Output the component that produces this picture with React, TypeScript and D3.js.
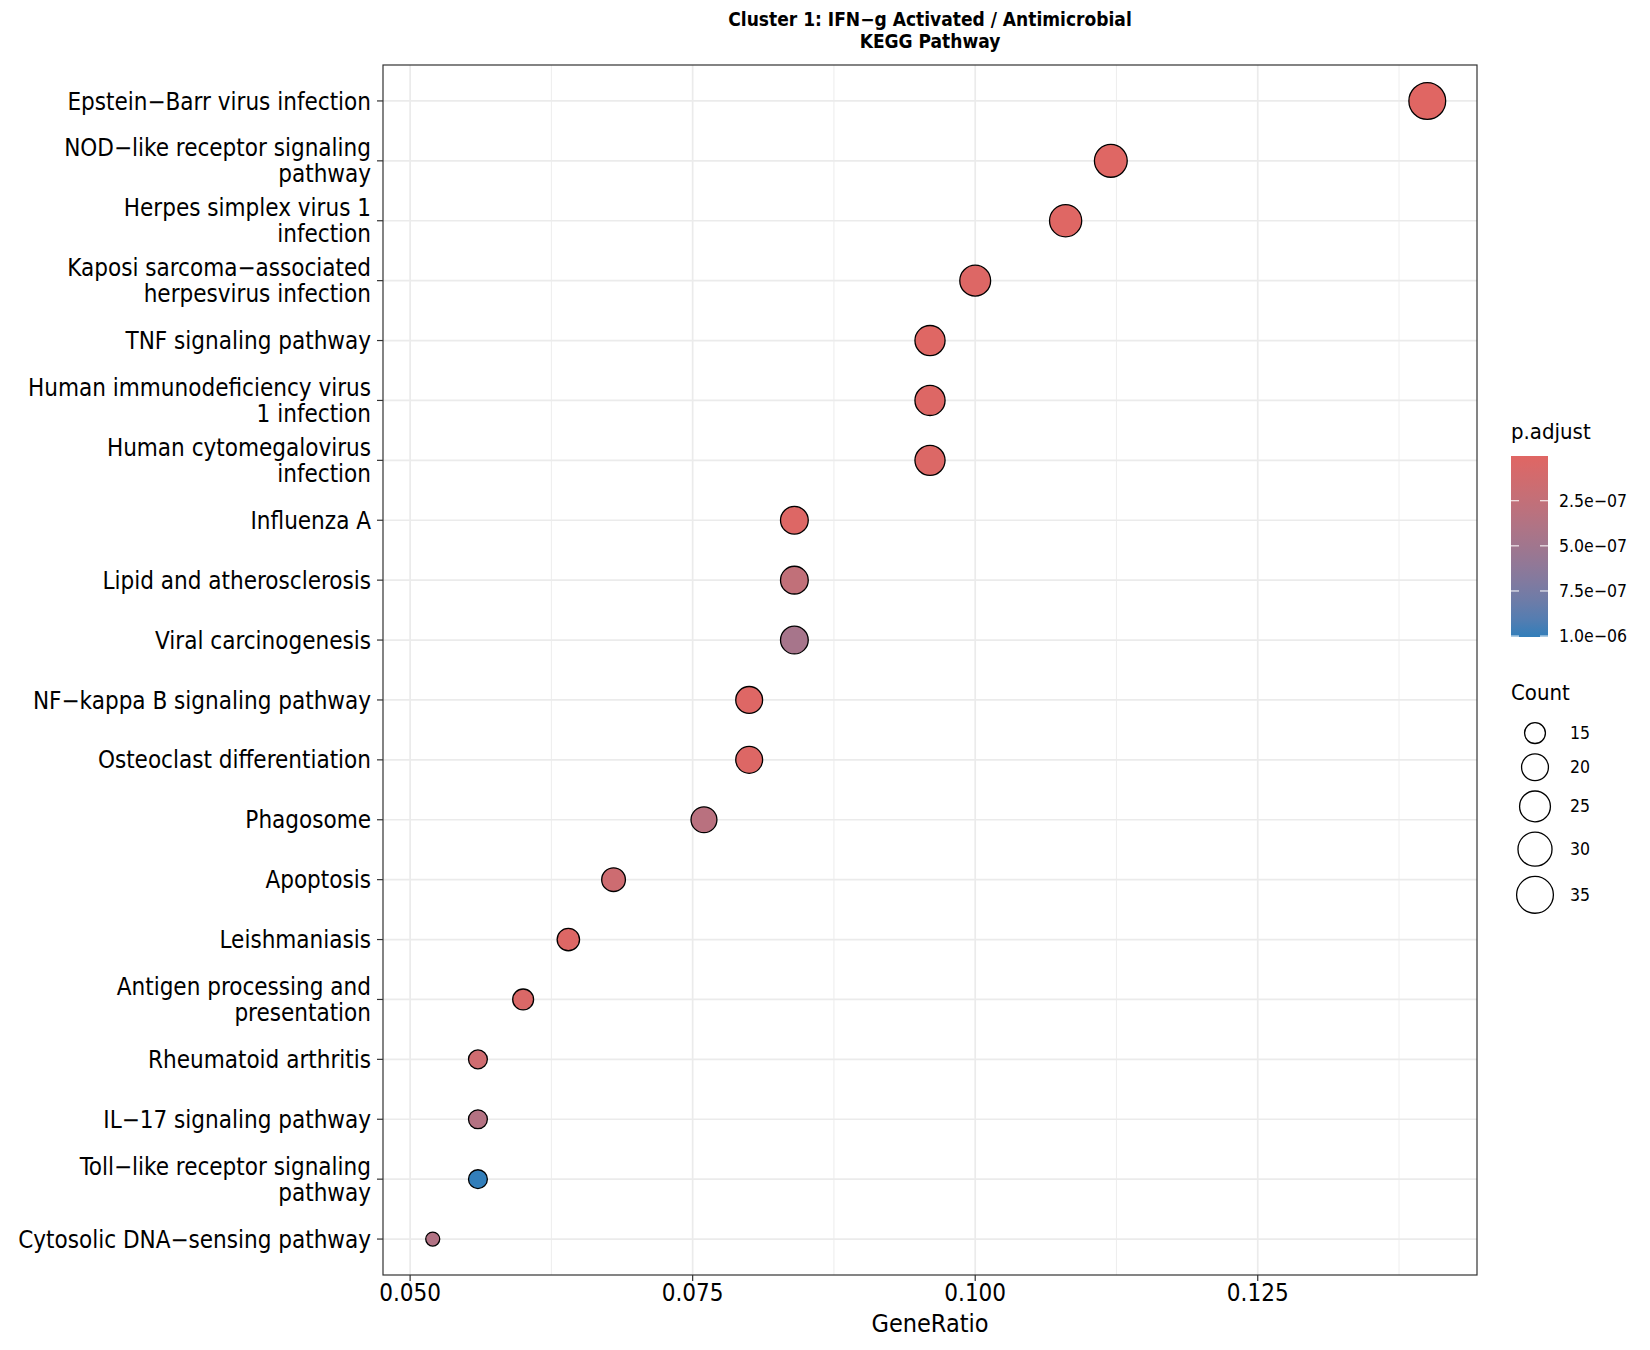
import React from "react";
import * as d3 from "d3";

// KEGG pathways, top to bottom as drawn
const pathways = [
  "Epstein−Barr virus infection",
  "NOD−like receptor signaling pathway",
  "Herpes simplex virus 1 infection",
  "Kaposi sarcoma−associated herpesvirus infection",
  "TNF signaling pathway",
  "Human immunodeficiency virus 1 infection",
  "Human cytomegalovirus infection",
  "Influenza A",
  "Lipid and atherosclerosis",
  "Viral carcinogenesis",
  "NF−kappa B signaling pathway",
  "Osteoclast differentiation",
  "Phagosome",
  "Apoptosis",
  "Leishmaniasis",
  "Antigen processing and presentation",
  "Rheumatoid arthritis",
  "IL−17 signaling pathway",
  "Toll−like receptor signaling pathway",
  "Cytosolic DNA−sensing pathway",
];

const geneRatio = [
  0.14, 0.112, 0.108, 0.1, 0.096, 0.096, 0.096, 0.084, 0.084, 0.084,
  0.08, 0.08, 0.076, 0.068, 0.064, 0.06, 0.056, 0.056, 0.056, 0.052,
];

const counts = [35, 28, 27, 25, 24, 24, 24, 21, 21, 21, 20, 20, 19, 17, 16, 15, 14, 14, 14, 13];

const pAdjust = [
  2e-9, 1.5e-8, 1.5e-8, 2.5e-8, 1.5e-8, 2.5e-8, 4e-8, 2.5e-8, 2.6e-7, 4.6e-7,
  2e-8, 3e-8, 3.2e-7, 1.6e-7, 3e-8, 5e-8, 1.5e-7, 3.6e-7, 1.005e-6, 3.8e-7,
];

const xTicks = [0.05, 0.075, 0.1, 0.125];
const xTickLabels = ["0.050", "0.075", "0.100", "0.125"];
const colorBreaks = [2.5e-7, 5e-7, 7.5e-7, 1e-6];
const colorBreakLabels = ["2.5e−07", "5.0e−07", "7.5e−07", "1.0e−06"];
const sizeBreaks = [15, 20, 25, 30, 35];

const FONT = "'DejaVu Sans Condensed', 'DejaVu Sans', sans-serif";

// like str_wrap(width = 30): a line has to stay under 30 chars
const wrap = (s: string, width = 30) => {
  const lines: string[] = [];
  let cur = "";
  s.split(" ").forEach((w) => {
    if (cur && (cur + " " + w).length >= width) {
      lines.push(cur);
      cur = w;
    } else {
      cur = cur ? cur + " " + w : w;
    }
  });
  if (cur) lines.push(cur);
  return lines;
};

export default function App() {
  const margin = { top: 65, right: 173, bottom: 75, left: 383 };
  const W = 1650;
  const H = 1350;
  const pw = W - margin.left - margin.right;
  const ph = H - margin.top - margin.bottom;

  const [xmin, xmax] = d3.extent(geneRatio) as [number, number];
  const pad = (xmax - xmin) * 0.05;
  const x = d3.scaleLinear().domain([xmin - pad, xmax + pad]).range([0, pw]);
  const y = d3.scalePoint<string>().domain(pathways).range([0, ph]).padding(0.6);

  const [pmin, pmax] = d3.extent(pAdjust) as [number, number];
  const color = d3
    .scaleLinear<string>()
    .domain([pmin, pmax])
    .range(["#e06663", "#327eba"])
    .interpolate(d3.interpolateLab);

  const sizeNorm = d3.scaleLinear().domain(d3.extent(counts) as [number, number]).range([0, 1]);
  const sizeR = d3.scaleLinear().domain([0, 1]).range([7, 18.4]);
  const radius = (c: number) => sizeR(Math.sqrt(Math.max(0, sizeNorm(c))));

  const minorTicks = xTicks.map((t, i) => (i < xTicks.length - 1 ? (t + xTicks[i + 1]) / 2 : t + 0.0125));

  // colour bar
  const cbX = 1511;
  const cbW = 37;
  const cbY = d3.scaleLinear().domain([pmin, pmax]).range([456, 637]);
  const gradStops = d3.range(0, 1.0001, 0.1);

  // size legend layout
  const keyX = 1535;
  let acc = 717.5;
  const keyY = sizeBreaks.map((b) => {
    const r = radius(b) + 0.65;
    const cy = acc + r + 4.5;
    acc = cy + r + 4.5;
    return cy;
  });

  return (
    <svg
      width={W}
      height={H}
      style={{ position: "absolute", left: 0, top: 0, background: "#fff" }}
      fontFamily={FONT}
    >
      <defs>
        <linearGradient id="pgrad" x1="0" y1="0" x2="0" y2="1">
          {gradStops.map((t) => (
            <stop key={t} offset={t} stopColor={color(pmin + t * (pmax - pmin))} />
          ))}
        </linearGradient>
      </defs>

      {/* title */}
      <text x={margin.left + pw / 2} y={25.5} textAnchor="middle" fontSize={19} fontWeight="bold">
        Cluster 1: IFN−g Activated / Antimicrobial
      </text>
      <text x={margin.left + pw / 2} y={47.5} textAnchor="middle" fontSize={19} fontWeight="bold">
        KEGG Pathway
      </text>

      <g transform={`translate(${margin.left},${margin.top})`}>
        {/* grid */}
        {minorTicks.map((t) => (
          <line key={"m" + t} x1={x(t)} x2={x(t)} y1={0} y2={ph} stroke="#EBEBEB" strokeWidth={0.9} />
        ))}
        {xTicks.map((t) => (
          <line key={"g" + t} x1={x(t)} x2={x(t)} y1={0} y2={ph} stroke="#EBEBEB" strokeWidth={1.7} />
        ))}
        {pathways.map((p) => (
          <line key={"h" + p} x1={0} x2={pw} y1={y(p)} y2={y(p)} stroke="#EBEBEB" strokeWidth={1.7} />
        ))}

        {/* points */}
        {pathways.map((p, i) => (
          <circle
            key={p}
            cx={x(geneRatio[i])}
            cy={y(p)}
            r={radius(counts[i])}
            fill={color(pAdjust[i])}
            stroke="#000"
            strokeWidth={1.3}
          />
        ))}

        <rect x={0} y={0} width={pw} height={ph} fill="none" stroke="#333" strokeWidth={1.2} />

        {/* y axis */}
        {pathways.map((p) => {
          const lines = wrap(p);
          const yy = y(p) as number;
          const lh = 26;
          const first = yy + 8.6 - ((lines.length - 1) * lh) / 2;
          return (
            <g key={"yl" + p}>
              <line x1={-6} x2={0} y1={yy} y2={yy} stroke="#333" strokeWidth={1.2} />
              <text x={-12} textAnchor="end" fontSize={24} fill="#000">
                {lines.map((l, j) => (
                  <tspan key={j} x={-12} y={first + j * lh}>
                    {l}
                  </tspan>
                ))}
              </text>
            </g>
          );
        })}

        {/* x axis */}
        {xTicks.map((t, i) => (
          <g key={"xt" + t}>
            <line x1={x(t)} x2={x(t)} y1={ph} y2={ph + 6} stroke="#333" strokeWidth={1.2} />
            <text x={x(t)} y={ph + 26} textAnchor="middle" fontSize={24} fill="#000">
              {xTickLabels[i]}
            </text>
          </g>
        ))}
        <text x={pw / 2} y={ph + 57} textAnchor="middle" fontSize={25} fill="#000">
          GeneRatio
        </text>
      </g>

      {/* p.adjust legend */}
      <text x={cbX} y={439} fontSize={22}>
        p.adjust
      </text>
      <rect x={cbX} y={cbY(pmin)} width={cbW} height={cbY(pmax) - cbY(pmin)} fill="url(#pgrad)" />
      {colorBreaks.map((b, i) => (
        <g key={"cb" + b}>
          <line x1={cbX} x2={cbX + 8} y1={cbY(b)} y2={cbY(b)} stroke="#fff" strokeWidth={1} />
          <line x1={cbX + cbW - 8} x2={cbX + cbW} y1={cbY(b)} y2={cbY(b)} stroke="#fff" strokeWidth={1} />
          <text x={cbX + cbW + 11} y={cbY(b) + 6} fontSize={17.5}>
            {colorBreakLabels[i]}
          </text>
        </g>
      ))}

      {/* Count legend */}
      <text x={cbX} y={700} fontSize={22}>
        Count
      </text>
      {sizeBreaks.map((b, i) => (
        <g key={"sz" + b}>
          <circle cx={keyX} cy={keyY[i]} r={radius(b)} fill="none" stroke="#000" strokeWidth={1.3} />
          <text x={1570} y={keyY[i] + 6} fontSize={17.5}>
            {b}
          </text>
        </g>
      ))}
    </svg>
  );
}
